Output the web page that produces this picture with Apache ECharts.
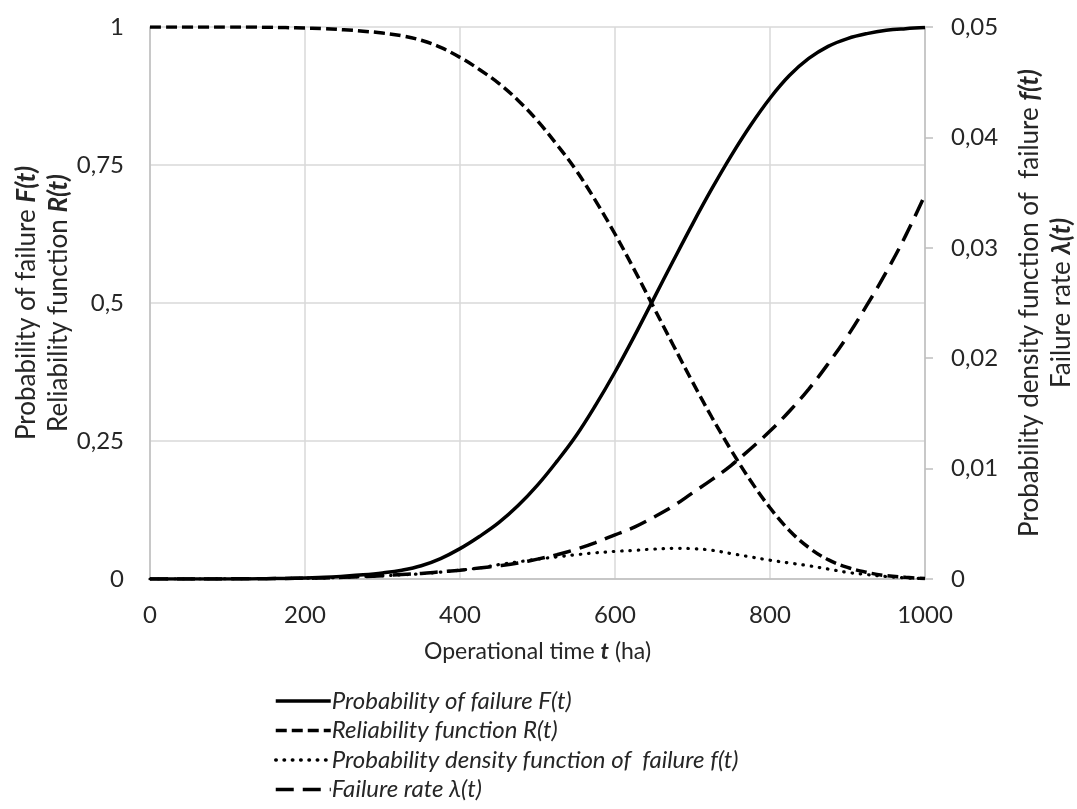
<!DOCTYPE html>
<html>
<head>
<meta charset="utf-8">
<script src="https://cdn.jsdelivr.net/npm/echarts@6/dist/echarts.min.js"></script>
<style>
  html, body { margin: 0; padding: 0; background: #fff; }
  #chart { width: 1077px; height: 809px; }
</style>
</head>
<body>
<div id="chart"></div>
<script>
// time axis (ha)
var time = [0, 25, 50, 75, 100, 125, 150, 175, 200, 225, 250, 275, 300, 325, 350, 375, 400,
            425, 450, 475, 500, 525, 550, 575, 600, 625, 650, 675, 700, 725, 750,
            775, 800, 825, 850, 875, 900, 925, 950, 975, 1000];
// probability of failure F(t)  (left axis)
var probFailure = [0, 0, 0, 0, 0, 0, 0.0005, 0.001, 0.002, 0.003, 0.005, 0.0075, 0.011, 0.016, 0.024, 0.037, 0.055,
                   0.077, 0.102, 0.133, 0.17, 0.213, 0.26, 0.315, 0.375, 0.44, 0.508, 0.576, 0.643, 0.707, 0.767,
                   0.822, 0.871, 0.912, 0.943, 0.965, 0.979, 0.988, 0.994, 0.997, 0.999];
// reliability function R(t)  (left axis)
var reliability = [1, 1, 1, 1, 1, 1, 0.9995, 0.999, 0.998, 0.997, 0.995, 0.9925, 0.989, 0.984, 0.976, 0.963, 0.945,
                   0.923, 0.898, 0.867, 0.83, 0.787, 0.74, 0.685, 0.625, 0.56, 0.492, 0.424, 0.357, 0.293, 0.233,
                   0.178, 0.129, 0.088, 0.057, 0.035, 0.021, 0.012, 0.006, 0.003, 0.001];
// probability density f(t)  (right axis)
var density = [0, 0, 0, 0, 0.00001, 0.00002, 0.00003, 0.00005, 0.00007, 0.0001, 0.00015, 0.00022, 0.0003, 0.00038, 0.00048, 0.00062, 0.0008,
               0.001, 0.0013, 0.00155, 0.0018, 0.002, 0.0022, 0.00237, 0.0025, 0.0026, 0.00271, 0.00278, 0.00275, 0.0026, 0.0023,
               0.002, 0.0017, 0.00145, 0.0012, 0.0009, 0.0006, 0.0004, 0.00022, 0.0001, 0.00004];
// failure rate lambda(t)  (right axis)
var failureRate = [0, 0, 0, 0, 0.00001, 0.00002, 0.00003, 0.00005, 0.00007, 0.0001, 0.00015, 0.00022, 0.0003, 0.0004, 0.0005, 0.00065, 0.0008,
                   0.001, 0.0012, 0.00145, 0.0018, 0.0022, 0.0027, 0.0033, 0.004, 0.0047, 0.0056, 0.0066, 0.0078, 0.009, 0.0103,
                   0.0118, 0.0134, 0.0152, 0.0172, 0.0195, 0.022, 0.0248, 0.0278, 0.0311, 0.0348];

var names = [
  'Probability of failure F(t)',
  'Reliability function R(t)',
  'Probability density function of  failure f(t)',
  'Failure rate λ(t)'
];

var FONT = 'Lato, "Open Sans", sans-serif';
var TXT = '#262626';

// 0.25 -> "0,25"
var comma = function(v) {
  return String(+v.toFixed(4)).replace('.', ',');
};
var pairs = function(arr) {
  return time.map(function(t, i) { return [t, arr[i]]; });
};
var lineSeries = function(name, arr, yIdx, style) {
  return {
    name: name,
    type: 'line',
    yAxisIndex: yIdx,
    data: pairs(arr),
    smooth: 0.4,
    symbol: 'none',
    lineStyle: style,
    itemStyle: { color: '#000' },
    z: 3
  };
};
var nameRich = function(size) {
  return {
    n: { fontFamily: FONT, fontSize: size, color: TXT, lineHeight: 32 },
    b: { fontFamily: FONT, fontSize: size, color: TXT, lineHeight: 32, fontWeight: 'bold', fontStyle: 'italic' }
  };
};

var chart = echarts.init(document.getElementById('chart'));
chart.setOption({
  animation: false,
  backgroundColor: '#fff',
  grid: { left: 150, right: 152, top: 27, bottom: 230, containLabel: false, outerBoundsMode: 'none' },
  legend: {
    orient: 'vertical',
    left: 269,
    top: 684,
    height: 140,
    itemWidth: 55,
    itemHeight: 14,
    itemGap: 5.5,
    selectedMode: false,
    itemStyle: { color: 'rgba(0,0,0,0)', borderColor: 'rgba(0,0,0,0)', borderWidth: 0 },
    lineStyle: { width: 3.5 },
    textStyle: { fontFamily: FONT, fontSize: 24, lineHeight: 24, fontStyle: 'italic', color: TXT, padding: [0, 0, 0, -4] },
    data: names
  },
  xAxis: {
    type: 'value',
    min: 0,
    max: 1000,
    interval: 200,
    name: '{n|Operational time }{b|t}{n| (ha)}',
    nameLocation: 'middle',
    nameGap: 57,
    nameMoveOverlap: false,
    nameTextStyle: { rich: nameRich(23) },
    axisLine: { lineStyle: { color: '#bfbfbf', width: 1.5 } },
    axisTick: { show: false },
    axisLabel: { margin: 24, fontFamily: FONT, fontSize: 24, color: TXT, formatter: function(v) { return String(v); } },
    splitLine: { show: true, lineStyle: { color: '#d9d9d9', width: 1.5 } }
  },
  yAxis: [
    {
      type: 'value',
      min: 0,
      max: 1,
      interval: 0.25,
      position: 'left',
      name: '{n|Probability of failure }{b|F(t)}\n{n|Reliability function }{b|R(t)}',
      nameLocation: 'middle',
      nameRotate: 90,
      nameGap: 75,
      nameMoveOverlap: false,
      nameTextStyle: { rich: nameRich(26) },
      axisLine: { show: true, lineStyle: { color: '#bfbfbf', width: 1.5 } },
      axisTick: { show: false },
      axisLabel: { margin: 26, fontFamily: FONT, fontSize: 24, color: TXT, formatter: comma },
      splitLine: { show: true, lineStyle: { color: '#d9d9d9', width: 1.5 } }
    },
    {
      type: 'value',
      min: 0,
      max: 0.05,
      interval: 0.01,
      position: 'right',
      name: '{n|Probability density function of  failure }{b|f(t)}\n{n|Failure rate }{b|λ(t)}',
      nameLocation: 'middle',
      nameRotate: 90,
      nameGap: 89,
      nameMoveOverlap: false,
      nameTextStyle: { rich: nameRich(26) },
      axisLine: { show: true, lineStyle: { color: '#bfbfbf', width: 1.5 } },
      axisTick: { show: true, length: 8, lineStyle: { color: '#bfbfbf', width: 1.5 } },
      axisLabel: { margin: 26, fontFamily: FONT, fontSize: 24, color: TXT, formatter: comma },
      splitLine: { show: false }
    }
  ],
  series: [
    lineSeries(names[0], probFailure, 0, { color: '#000', width: 3.5, type: 'solid' }),
    lineSeries(names[1], reliability, 0, { color: '#000', width: 3.5, type: [11, 5] }),
    lineSeries(names[2], density, 1, { color: '#000', width: 3.2, type: [0.5, 7.8], cap: 'round' }),
    lineSeries(names[3], failureRate, 1, { color: '#000', width: 3.5, type: [18, 9] })
  ]
});
</script>
</body>
</html>
